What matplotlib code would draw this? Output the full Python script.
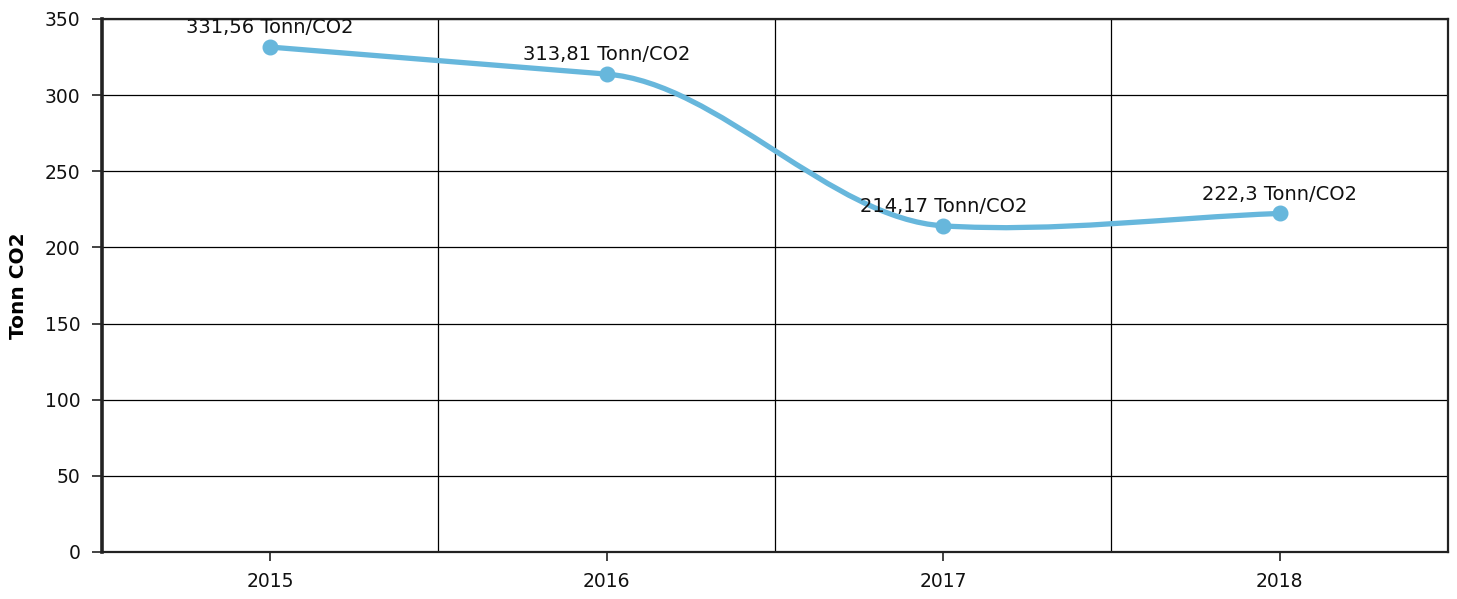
import numpy as np
import matplotlib
matplotlib.use("Agg")
from matplotlib import pyplot as plt
from matplotlib.path import Path
from matplotlib.patches import PathPatch

years = ["2015", "2016", "2017", "2018"]
co2 = [331.56, 313.81, 214.17, 222.3]
labels = ["331,56 Tonn/CO2", "313,81 Tonn/CO2", "214,17 Tonn/CO2", "222,3 Tonn/CO2"]

line_color = "#67b7dc"
tension = 0.3

plt.rcParams["font.family"] = "DejaVu Sans"

fig = plt.figure(figsize=(14.57, 5.99), dpi=100)
ax = fig.add_axes([0.070, 0.0785, 0.9238, 0.8898])

x = np.arange(len(years))
y = np.array(co2)

# smoothed line: cubic bezier segments through the points
m = np.zeros(len(y))
m[0] = y[1] - y[0]
m[-1] = y[-1] - y[-2]
for i in range(1, len(y) - 1):
    m[i] = tension * (y[i + 1] - y[i - 1]) / 2
verts = [(x[0], y[0])]
codes = [Path.MOVETO]
for i in range(len(y) - 1):
    verts += [(x[i] + 1 / 3, y[i] + m[i] / 3),
              (x[i + 1] - 1 / 3, y[i + 1] - m[i + 1] / 3),
              (x[i + 1], y[i + 1])]
    codes += [Path.CURVE4] * 3
ax.add_patch(PathPatch(Path(verts, codes), facecolor="none", edgecolor=line_color,
                       lw=3.8, capstyle="round", joinstyle="round", zorder=3))
ax.plot(x, y, "o", color=line_color, markersize=10.5, zorder=4)

for xi, yi, lab in zip(x, y, labels):
    ax.annotate(lab, (xi, yi), xytext=(0, 7), textcoords="offset points",
                ha="center", va="bottom", fontsize=14, color="#111111", zorder=5)

ax.set_xlim(-0.5, 3.5)
ax.set_ylim(0, 350)
ax.set_yticks(np.arange(0, 351, 50))
ax.set_xticks(x)
ax.set_xticklabels(years)
ax.set_xticks([0.5, 1.5, 2.5], minor=True)

ax.grid(True, which="major", axis="y", color="#000000", lw=0.9)
ax.grid(True, which="minor", axis="x", color="#000000", lw=0.9)
ax.tick_params(axis="x", which="minor", length=0)
ax.tick_params(axis="x", which="major", length=6.5, width=1.2, color="#222222",
               labelsize=13.5, pad=8, labelcolor="#111111")
ax.tick_params(axis="y", length=7.5, width=1.2, color="#222222", labelsize=13.5, pad=8,
               labelcolor="#111111")

for side, spine in ax.spines.items():
    spine.set_color("#222222")
    spine.set_linewidth(1.6)
ax.spines["left"].set_linewidth(2.6)

ax.set_ylabel("Tonn CO2", fontsize=14.5, fontweight="bold", labelpad=12)

fig.savefig("out.png", dpi=100)
